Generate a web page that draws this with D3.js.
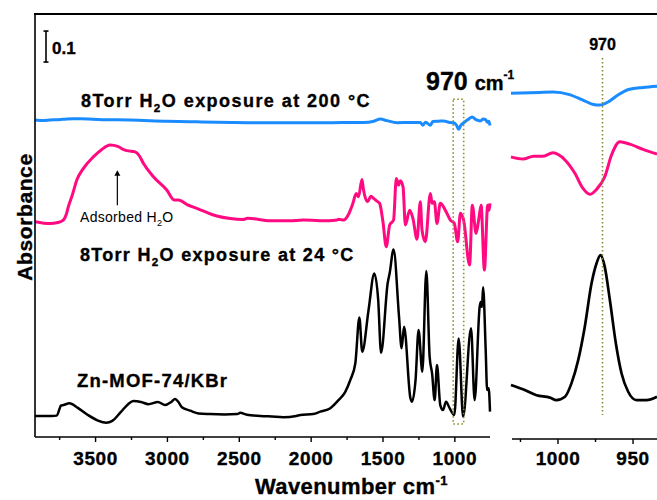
<!DOCTYPE html>
<html>
<head>
<meta charset="utf-8">
<script src="https://cdn.jsdelivr.net/npm/d3@7"></script>
<style>
  body { margin: 0; background: #fff; }
  svg { display: block; font-family: "Liberation Sans", Arial, sans-serif; }
  .heavy { stroke: #000; stroke-width: 0.35; paint-order: stroke; }
</style>
</head>
<body>
<svg id="chart" width="657" height="500"></svg>
<script>
// ---- Full-range spectra (wavenumber in cm-1, absorbance incl. stacking offset) ----
const wnZn = [3918,3800,3767,3745,3739,3720,3679,3620,3550,3480,3423,3380,3320,3270,3233,3180,3129,3063,3013,2970,2943,2920,2896,2838,2780,2700,2600,2510,2490,2444,2350,2270,2190,2100,2072,1982,1933,1863,1806,1760,1724,1689,1661,1641,1597,1557,1530,1510,1464,1450,1423,1385,1367,1350,1306,1295,1270,1249,1223,1195,1172,1155,1137,1121,1098,1079,1058,1033,1000,970,939,884,859,824,817,808,800,782,772,761,752];
const absZn = [0.068,0.068,0.069,0.094,0.101,0.103,0.109,0.094,0.071,0.053,0.046,0.052,0.081,0.106,0.116,0.113,0.106,0.113,0.103,0.113,0.123,0.113,0.096,0.085,0.076,0.074,0.073,0.074,0.078,0.072,0.068,0.066,0.064,0.068,0.071,0.074,0.082,0.093,0.119,0.145,0.184,0.238,0.386,0.275,0.410,0.528,0.442,0.272,0.496,0.529,0.605,0.388,0.286,0.356,0.126,0.114,0.184,0.345,0.211,0.536,0.259,0.205,0.119,0.232,0.103,0.087,0.114,0.093,0.071,0.318,0.065,0.351,0.119,0.420,0.436,0.420,0.483,0.281,0.152,0.157,0.082];

const wn24 = [3918,3813,3760,3721,3700,3686,3655,3627,3581,3512,3453,3396,3338,3300,3279,3221,3190,3164,3094,3001,2950,2920,2860,2792,2653,2560,2467,2440,2281,2150,2050,1875,1817,1806,1771,1736,1706,1683,1667,1643,1632,1604,1580,1562,1539,1520,1497,1474,1450,1423,1404,1388,1376,1357,1341,1311,1288,1260,1237,1225,1202,1167,1155,1139,1121,1098,1063,1028,1000,977,958,935,894,875,849,831,814,791,768,758,752];
const abs24 = [0.695,0.689,0.692,0.700,0.719,0.743,0.786,0.829,0.867,0.904,0.928,0.942,0.937,0.927,0.924,0.920,0.906,0.883,0.840,0.797,0.765,0.765,0.750,0.738,0.713,0.705,0.702,0.706,0.698,0.698,0.700,0.698,0.700,0.703,0.700,0.719,0.754,0.786,0.775,0.831,0.797,0.759,0.777,0.770,0.761,0.754,0.695,0.614,0.684,0.700,0.834,0.813,0.827,0.807,0.684,0.732,0.705,0.638,0.759,0.668,0.630,0.786,0.754,0.759,0.689,0.754,0.732,0.700,0.689,0.630,0.722,0.698,0.555,0.748,0.657,0.700,0.748,0.539,0.748,0.732,0.754];

const wn200 = [3918,3860,3813,3760,3721,3650,3604,3450,3256,3000,2792,2550,2328,2100,1863,1700,1632,1560,1515,1470,1399,1300,1237,1220,1200,1167,1150,1110,1074,1040,1005,985,970,955,935,900,877,850,819,800,784,770,760,752];
const abs200 = [1.023,1.021,1.023,1.024,1.025,1.027,1.027,1.024,1.023,1.019,1.017,1.015,1.014,1.014,1.014,1.015,1.015,1.019,1.026,1.021,1.014,1.015,1.015,1.006,1.016,1.006,1.018,1.019,1.020,1.016,1.014,1.006,0.993,1.006,1.014,1.026,1.033,1.024,1.020,1.026,1.025,1.016,1.019,1.005];

// ---- Expanded 1030-934 cm-1 region ----
const wnZoomZn = [1031,1023,1014,1005,1000.7,995,990.7,986.2,981.8,977.3,974,971.3,968.5,965.1,961.1,957.3,952.9,947.3,940.7,933.7];
const absZoomZn = [0.168,0.154,0.135,0.127,0.119,0.130,0.173,0.248,0.356,0.496,0.560,0.587,0.549,0.442,0.302,0.205,0.146,0.119,0.119,0.130];
const wnZoom24 = [1031,1023,1016,1010,1003,995,988.4,983,978.4,974,968.5,964,958.5,951.8,943,933.7];
const absZoom24 = [0.904,0.897,0.906,0.906,0.917,0.894,0.851,0.802,0.783,0.799,0.840,0.910,0.953,0.945,0.928,0.913];
const wnZoom200 = [1031,1012,1003,992,983,976,972,966,960,952,943,933.7];
const absZoom200 = [1.109,1.112,1.113,1.105,1.087,1.073,1.071,1.082,1.103,1.122,1.128,1.132];

// ---- Axis ticks ----
const mainMajorTicks = [3500,3000,2500,2000,1500,1000];
const mainMinorTicks = [3750,3250,2750,2250,1750,1250];
const zoomMajorTicks = [1000,950];
const zoomMinorTicks = [1025,975];

const bandPosition = 970;           // marked band
const bandBox = [1008, 935];        // wavenumber window shown expanded on the right
const scaleBarValue = 0.1;          // absorbance scale bar

const colors = { zn: "#000000", t24: "#ff0a80", t200: "#1a8cff", guide: "#8c8c32" };

const svg = d3.select("#chart");

// Scales
const x = d3.scaleLinear().domain([3918, 752]).range([35, 490]);
const y = d3.scaleLinear().domain([0, 1.365]).range([437, 14]);
const xz = d3.scaleLinear().domain([1030.3, 933.7]).range([512, 657]);

// Clip paths for the two panels
const defs = svg.append("defs");
defs.append("clipPath").attr("id", "clipMain").append("rect")
  .attr("x", 35).attr("y", 14).attr("width", 457).attr("height", 423);
defs.append("clipPath").attr("id", "clipZoom").append("rect")
  .attr("x", 510).attr("y", 14).attr("width", 147).attr("height", 425);

const pts = (w, a) => w.map((v, i) => [v, a[i]]);

// Main panel spectra
const lineMain = d3.line().x(d => x(d[0])).y(d => y(d[1])).curve(d3.curveMonotoneX);
const gMain = svg.append("g").attr("clip-path", "url(#clipMain)");
[[wnZn, absZn, colors.zn, 2.5], [wn24, abs24, colors.t24, 3], [wn200, abs200, colors.t200, 3]]
  .forEach(([w, a, c, sw]) => {
    gMain.append("path").datum(pts(w, a)).attr("d", lineMain)
      .attr("fill", "none").attr("stroke", c).attr("stroke-width", sw)
      .attr("stroke-linejoin", "round");
  });

// Expanded panel spectra
const lineZoom = d3.line().x(d => xz(d[0])).y(d => y(d[1])).curve(d3.curveMonotoneX);
const gZoom = svg.append("g").attr("clip-path", "url(#clipZoom)");
[[wnZoomZn, absZoomZn, colors.zn, 2.7], [wnZoom24, absZoom24, colors.t24, 3], [wnZoom200, absZoom200, colors.t200, 3]]
  .forEach(([w, a, c, sw]) => {
    gZoom.append("path").datum(pts(w, a)).attr("d", lineZoom)
      .attr("fill", "none").attr("stroke", c).attr("stroke-width", sw)
      .attr("stroke-linejoin", "round");
  });

// Dotted window around the band in the main panel
svg.append("rect")
  .attr("x", x(bandBox[0])).attr("y", y(1.090))
  .attr("width", x(bandBox[1]) - x(bandBox[0])).attr("height", y(0.042) - y(1.090))
  .attr("fill", "none").attr("stroke", colors.guide).attr("stroke-width", 1.6)
  .attr("stroke-dasharray", "1.6,2.4");

// Dotted guide at the band in the expanded panel
svg.append("line")
  .attr("x1", xz(bandPosition)).attr("x2", xz(bandPosition))
  .attr("y1", y(1.223)).attr("y2", y(0.071))
  .attr("stroke", colors.guide).attr("stroke-width", 1.6)
  .attr("stroke-dasharray", "1.6,2.4");

// Frame: top border across both panels, left border of main panel
svg.append("line").attr("x1", 34).attr("x2", 657).attr("y1", 14).attr("y2", 14)
  .attr("stroke", "#000").attr("stroke-width", 2.2);
svg.append("line").attr("x1", 35).attr("x2", 35).attr("y1", 13).attr("y2", 437)
  .attr("stroke", "#000").attr("stroke-width", 1.6);

// Bottom axes
function drawAxis(scale, yPos, majors, minors, x0, x1) {
  svg.append("line").attr("x1", x0).attr("x2", x1).attr("y1", yPos).attr("y2", yPos)
    .attr("stroke", "#000").attr("stroke-width", 1.6);
  const major = svg.append("g").attr("transform", `translate(0,${yPos})`)
    .call(d3.axisBottom(scale).tickValues(majors).tickSize(5).tickSizeOuter(0).tickPadding(452 - yPos - 5).tickFormat(d3.format("d")));
  major.select(".domain").remove();
  major.selectAll(".tick line").attr("stroke-width", 1.4);
  major.selectAll(".tick text").attr("font-size", 19).attr("font-weight", "bold")
    .attr("font-family", "'Liberation Sans', Arial, sans-serif").attr("fill", "#000")
    .attr("letter-spacing", 0.6).attr("class", "heavy");
  const minor = svg.append("g").attr("transform", `translate(0,${yPos})`)
    .call(d3.axisBottom(scale).tickValues(minors).tickSize(3).tickSizeOuter(0).tickFormat(""));
  minor.select(".domain").remove();
  minor.selectAll(".tick line").attr("stroke-width", 1.4);
}
drawAxis(x, 437, mainMajorTicks, mainMinorTicks, 35, 490);
drawAxis(xz, 439, zoomMajorTicks, zoomMinorTicks, 512, 657);

// Axis titles
svg.append("text").attr("class", "heavy")
  .attr("transform", "translate(32,217) rotate(-90)")
  .attr("text-anchor", "middle").attr("font-size", 21).attr("font-weight", "bold")
  .attr("letter-spacing", 0.6)
  .text("Absorbance");

const xt = svg.append("text").attr("class", "heavy").attr("x", 255).attr("y", 494)
  .attr("font-size", 22).attr("font-weight", "bold").attr("letter-spacing", 0.4);
xt.append("tspan").text("Wavenumber cm");
xt.append("tspan").attr("font-size", 13).attr("dy", -9).text("-1");

// Absorbance scale bar
const sbX = 46, sbTop = y(1.310), sbBot = y(1.310 - scaleBarValue);
svg.append("line").attr("x1", sbX).attr("x2", sbX).attr("y1", sbTop).attr("y2", sbBot)
  .attr("stroke", "#000").attr("stroke-width", 1.6);
[sbTop, sbBot].forEach(v => svg.append("line").attr("x1", sbX - 2.5).attr("x2", sbX + 2.5)
  .attr("y1", v).attr("y2", v).attr("stroke", "#000").attr("stroke-width", 1.6));
svg.append("text").attr("class", "heavy").attr("x", 52).attr("y", 54).attr("font-size", 17).attr("font-weight", "bold")
  .text(scaleBarValue.toString());

// Series labels with subscripted H2O
function seriesLabel(x0, y0, before, after, size, weight, spacing, cls) {
  const t = svg.append("text").attr("x", x0).attr("y", y0).attr("class", cls)
    .attr("font-size", size).attr("font-weight", weight).attr("letter-spacing", spacing);
  t.append("tspan").text(before + "H");
  t.append("tspan").attr("font-size", size * 0.65).attr("dy", size * 0.3).text("2");
  t.append("tspan").attr("dy", -size * 0.3).text("O" + after);
}
seriesLabel(81, 107, "8Torr ", " exposure at 200 °C", 18, "bold", 1.45, "heavy");
seriesLabel(80, 261, "8Torr ", " exposure at 24 °C", 18, "bold", 1.3, "heavy");
svg.append("text").attr("class", "heavy").attr("x", 77).attr("y", 387).attr("font-size", 18.5).attr("font-weight", "bold")
  .attr("letter-spacing", 1.2).text("Zn-MOF-74/KBr");
seriesLabel(80, 222, "Adsorbed ", "", 14, "normal", 0.3, null);

// Arrow to the adsorbed-water band
const arrX = x(3345);
svg.append("line").attr("x1", arrX).attr("x2", arrX).attr("y1", y(0.748)).attr("y2", y(0.850))
  .attr("stroke", "#000").attr("stroke-width", 1.2);
svg.append("path")
  .attr("d", `M${arrX},${y(0.861)} L${arrX - 3},${y(0.843)} L${arrX + 3},${y(0.843)} Z`)
  .attr("fill", "#000");

// Band labels
const bl = svg.append("text").attr("class", "heavy").attr("x", 426).attr("y", 90).attr("font-weight", "bold");
bl.append("tspan").attr("font-size", 25).text(bandPosition + " ");
bl.append("tspan").attr("font-size", 20).text("cm");
bl.append("tspan").attr("font-size", 12).attr("dy", -11).text("-1");

svg.append("text").attr("class", "heavy").attr("x", xz(bandPosition)).attr("y", 50).attr("text-anchor", "middle")
  .attr("font-size", 16).attr("font-weight", "bold").text(bandPosition);
</script>
</body>
</html>
